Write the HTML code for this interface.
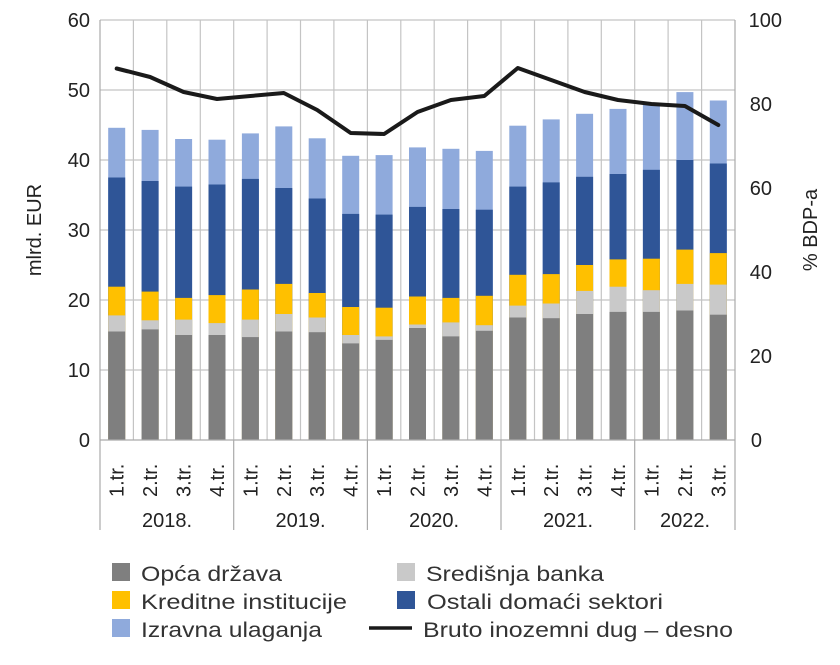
<!DOCTYPE html><html><head><style>body{margin:0;background:#fff}svg{font-family:"Liberation Sans",sans-serif}
rect{width:17px}.a{fill:#8faadc}.b{fill:#2f5597}.c{fill:#ffc000}.d{fill:#c9c9c9}.e{fill:#7f7f7f}</style></head><body>
<svg width="840" height="660" xmlns="http://www.w3.org/2000/svg">
<g stroke="#c4c4c4" stroke-width="1.2">
<line x1="100" y1="20" x2="735" y2="20"/><line x1="100" y1="90" x2="735" y2="90"/><line x1="100" y1="160" x2="735" y2="160"/><line x1="100" y1="230" x2="735" y2="230"/><line x1="100" y1="300" x2="735" y2="300"/><line x1="100" y1="370" x2="735" y2="370"/>
<line x1="133.4" y1="20" x2="133.4" y2="440"/><line x1="166.8" y1="20" x2="166.8" y2="440"/><line x1="200.3" y1="20" x2="200.3" y2="440"/><line x1="233.7" y1="20" x2="233.7" y2="440"/><line x1="267.1" y1="20" x2="267.1" y2="440"/><line x1="300.5" y1="20" x2="300.5" y2="440"/><line x1="333.9" y1="20" x2="333.9" y2="440"/><line x1="367.4" y1="20" x2="367.4" y2="440"/><line x1="400.8" y1="20" x2="400.8" y2="440"/><line x1="434.2" y1="20" x2="434.2" y2="440"/><line x1="467.6" y1="20" x2="467.6" y2="440"/><line x1="501" y1="20" x2="501" y2="440"/><line x1="534.5" y1="20" x2="534.5" y2="440"/><line x1="567.9" y1="20" x2="567.9" y2="440"/><line x1="601.3" y1="20" x2="601.3" y2="440"/><line x1="634.7" y1="20" x2="634.7" y2="440"/><line x1="668.1" y1="20" x2="668.1" y2="440"/><line x1="701.6" y1="20" x2="701.6" y2="440"/>
</g>
<g transform="translate(108.2,0)"><rect class="a" width="17" y="127.8" height="312.2"/><rect class="b" width="17" y="177.5" height="262.5"/><rect class="c" width="17" y="286.7" height="153.3"/><rect class="d" width="17" y="315.4" height="124.6"/><rect class="e" width="17" y="331.5" height="108.5"/></g>
<g transform="translate(141.6,0)"><rect class="a" width="17" y="129.9" height="310.1"/><rect class="b" width="17" y="181" height="259"/><rect class="c" width="17" y="291.6" height="148.4"/><rect class="d" width="17" y="320.3" height="119.7"/><rect class="e" width="17" y="329.4" height="110.6"/></g>
<g transform="translate(175.1,0)"><rect class="a" width="17" y="139" height="301"/><rect class="b" width="17" y="186.6" height="253.4"/><rect class="c" width="17" y="297.9" height="142.1"/><rect class="d" width="17" y="319.6" height="120.4"/><rect class="e" width="17" y="335" height="105"/></g>
<g transform="translate(208.5,0)"><rect class="a" width="17" y="139.7" height="300.3"/><rect class="b" width="17" y="184.5" height="255.5"/><rect class="c" width="17" y="295.1" height="144.9"/><rect class="d" width="17" y="323.1" height="116.9"/><rect class="e" width="17" y="335" height="105"/></g>
<g transform="translate(241.9,0)"><rect class="a" width="17" y="133.4" height="306.6"/><rect class="b" width="17" y="178.9" height="261.1"/><rect class="c" width="17" y="289.5" height="150.5"/><rect class="d" width="17" y="319.6" height="120.4"/><rect class="e" width="17" y="337.1" height="102.9"/></g>
<g transform="translate(275.3,0)"><rect class="a" width="17" y="126.4" height="313.6"/><rect class="b" width="17" y="188" height="252"/><rect class="c" width="17" y="283.9" height="156.1"/><rect class="d" width="17" y="314" height="126"/><rect class="e" width="17" y="331.5" height="108.5"/></g>
<g transform="translate(308.7,0)"><rect class="a" width="17" y="138.3" height="301.7"/><rect class="b" width="17" y="198.5" height="241.5"/><rect class="c" width="17" y="293" height="147"/><rect class="d" width="17" y="317.5" height="122.5"/><rect class="e" width="17" y="332.2" height="107.8"/></g>
<g transform="translate(342.2,0)"><rect class="a" width="17" y="155.8" height="284.2"/><rect class="b" width="17" y="213.9" height="226.1"/><rect class="c" width="17" y="307" height="133"/><rect class="d" width="17" y="335" height="105"/><rect class="e" width="17" y="343.4" height="96.6"/></g>
<g transform="translate(375.6,0)"><rect class="a" width="17" y="155.1" height="284.9"/><rect class="b" width="17" y="214.6" height="225.4"/><rect class="c" width="17" y="307.7" height="132.3"/><rect class="d" width="17" y="336.4" height="103.6"/><rect class="e" width="17" y="339.9" height="100.1"/></g>
<g transform="translate(409,0)"><rect class="a" width="17" y="147.4" height="292.6"/><rect class="b" width="17" y="206.9" height="233.1"/><rect class="c" width="17" y="296.5" height="143.5"/><rect class="d" width="17" y="324.5" height="115.5"/><rect class="e" width="17" y="328" height="112"/></g>
<g transform="translate(442.4,0)"><rect class="a" width="17" y="148.8" height="291.2"/><rect class="b" width="17" y="209" height="231"/><rect class="c" width="17" y="297.9" height="142.1"/><rect class="d" width="17" y="322.4" height="117.6"/><rect class="e" width="17" y="336.4" height="103.6"/></g>
<g transform="translate(475.8,0)"><rect class="a" width="17" y="150.9" height="289.1"/><rect class="b" width="17" y="209.7" height="230.3"/><rect class="c" width="17" y="295.8" height="144.2"/><rect class="d" width="17" y="325.2" height="114.8"/><rect class="e" width="17" y="330.8" height="109.2"/></g>
<g transform="translate(509.3,0)"><rect class="a" width="17" y="125.7" height="314.3"/><rect class="b" width="17" y="186.6" height="253.4"/><rect class="c" width="17" y="274.8" height="165.2"/><rect class="d" width="17" y="305.6" height="134.4"/><rect class="e" width="17" y="317.5" height="122.5"/></g>
<g transform="translate(542.7,0)"><rect class="a" width="17" y="119.4" height="320.6"/><rect class="b" width="17" y="182.4" height="257.6"/><rect class="c" width="17" y="274.1" height="165.9"/><rect class="d" width="17" y="303.5" height="136.5"/><rect class="e" width="17" y="318.2" height="121.8"/></g>
<g transform="translate(576.1,0)"><rect class="a" width="17" y="113.8" height="326.2"/><rect class="b" width="17" y="176.8" height="263.2"/><rect class="c" width="17" y="265" height="175"/><rect class="d" width="17" y="290.9" height="149.1"/><rect class="e" width="17" y="314" height="126"/></g>
<g transform="translate(609.5,0)"><rect class="a" width="17" y="108.9" height="331.1"/><rect class="b" width="17" y="174" height="266"/><rect class="c" width="17" y="259.4" height="180.6"/><rect class="d" width="17" y="286.7" height="153.3"/><rect class="e" width="17" y="311.9" height="128.1"/></g>
<g transform="translate(642.9,0)"><rect class="a" width="17" y="104" height="336"/><rect class="b" width="17" y="169.8" height="270.2"/><rect class="c" width="17" y="258.7" height="181.3"/><rect class="d" width="17" y="290.2" height="149.8"/><rect class="e" width="17" y="311.9" height="128.1"/></g>
<g transform="translate(676.4,0)"><rect class="a" width="17" y="92.1" height="347.9"/><rect class="b" width="17" y="160" height="280"/><rect class="c" width="17" y="249.6" height="190.4"/><rect class="d" width="17" y="283.9" height="156.1"/><rect class="e" width="17" y="310.5" height="129.5"/></g>
<g transform="translate(709.8,0)"><rect class="a" width="17" y="100.5" height="339.5"/><rect class="b" width="17" y="163.5" height="276.5"/><rect class="c" width="17" y="253.1" height="186.9"/><rect class="d" width="17" y="284.6" height="155.4"/><rect class="e" width="17" y="314.7" height="125.3"/></g>
<polyline points="116.7,68.5 150.1,77 183.6,92 217,99 250.4,96 283.8,93 317.2,110 350.7,133 384.1,134 417.5,112 450.9,100 484.3,96 517.8,68 551.2,80 584.6,92 618,100 651.4,104 684.9,106 718.3,125" fill="none" stroke="#1a1a1a" stroke-width="4" stroke-linejoin="round" stroke-linecap="round"/>
<g stroke="#aaa" stroke-width="1.2">
<line x1="100" y1="20" x2="100" y2="440"/><line x1="735" y1="20" x2="735" y2="440"/>
<line x1="100" y1="440" x2="735" y2="440"/>
<line x1="100" y1="440" x2="100" y2="530"/><line x1="233.7" y1="440" x2="233.7" y2="530"/><line x1="367.4" y1="440" x2="367.4" y2="530"/><line x1="501" y1="440" x2="501" y2="530"/><line x1="634.7" y1="440" x2="634.7" y2="530"/><line x1="735" y1="440" x2="735" y2="530"/>
</g>
<g font-size="20" fill="#222">
<text transform="translate(123.7,497) rotate(-90)">1.tr.</text>
<text transform="translate(157.1,497) rotate(-90)">2.tr.</text>
<text transform="translate(190.6,497) rotate(-90)">3.tr.</text>
<text transform="translate(224,497) rotate(-90)">4.tr.</text>
<text transform="translate(257.4,497) rotate(-90)">1.tr.</text>
<text transform="translate(290.8,497) rotate(-90)">2.tr.</text>
<text transform="translate(324.2,497) rotate(-90)">3.tr.</text>
<text transform="translate(357.7,497) rotate(-90)">4.tr.</text>
<text transform="translate(391.1,497) rotate(-90)">1.tr.</text>
<text transform="translate(424.5,497) rotate(-90)">2.tr.</text>
<text transform="translate(457.9,497) rotate(-90)">3.tr.</text>
<text transform="translate(491.3,497) rotate(-90)">4.tr.</text>
<text transform="translate(524.8,497) rotate(-90)">1.tr.</text>
<text transform="translate(558.2,497) rotate(-90)">2.tr.</text>
<text transform="translate(591.6,497) rotate(-90)">3.tr.</text>
<text transform="translate(625,497) rotate(-90)">4.tr.</text>
<text transform="translate(658.4,497) rotate(-90)">1.tr.</text>
<text transform="translate(691.9,497) rotate(-90)">2.tr.</text>
<text transform="translate(725.3,497) rotate(-90)">3.tr.</text>
</g>
<g font-size="20" fill="#222" text-anchor="end">
<text x="90" y="447">0</text><text x="90" y="377">10</text><text x="90" y="307">20</text><text x="90" y="237">30</text><text x="90" y="167">40</text><text x="90" y="97">50</text><text x="90" y="27">60</text>
</g>
<g font-size="20" fill="#222" text-anchor="end">
<text x="762" y="447">0</text><text x="772" y="363">20</text><text x="772" y="279">40</text><text x="772" y="195">60</text><text x="772" y="111">80</text><text x="782" y="27">100</text>
</g>
<text transform="translate(41,230) rotate(-90)" font-size="20" fill="#222" text-anchor="middle">mlrd. EUR</text>
<text transform="translate(817,230) rotate(-90)" font-size="20" fill="#222" text-anchor="middle">% BDP-a</text>
<g font-size="20" fill="#222" text-anchor="middle">
<text x="167" y="527">2018.</text><text x="300.5" y="527">2019.</text><text x="434" y="527">2020.</text><text x="568" y="527">2021.</text><text x="685" y="527">2022.</text>
</g>
<g font-size="21" fill="#333">
<rect x="112" y="563" height="18" fill="#7f7f7f" style="width:18px"/><text x="141" y="581" textLength="141" lengthAdjust="spacingAndGlyphs">Opća država</text>
<rect x="112" y="591" height="18" fill="#ffc000" style="width:18px"/><text x="141" y="609" textLength="206" lengthAdjust="spacingAndGlyphs">Kreditne institucije</text>
<rect x="112" y="619" height="18" fill="#8faadc" style="width:18px"/><text x="141" y="637" textLength="181" lengthAdjust="spacingAndGlyphs">Izravna ulaganja</text>
<rect x="397" y="563" height="18" fill="#c9c9c9" style="width:18px"/><text x="426" y="581" textLength="178" lengthAdjust="spacingAndGlyphs">Središnja banka</text>
<rect x="397" y="591" height="18" fill="#2f5597" style="width:18px"/><text x="427" y="609" textLength="236" lengthAdjust="spacingAndGlyphs">Ostali domaći sektori</text>
<line x1="369" y1="628" x2="412" y2="628" stroke="#1a1a1a" stroke-width="3.5"/><text x="423" y="637" textLength="310" lengthAdjust="spacingAndGlyphs">Bruto inozemni dug – desno</text>
</g>
</svg>
</body></html>
